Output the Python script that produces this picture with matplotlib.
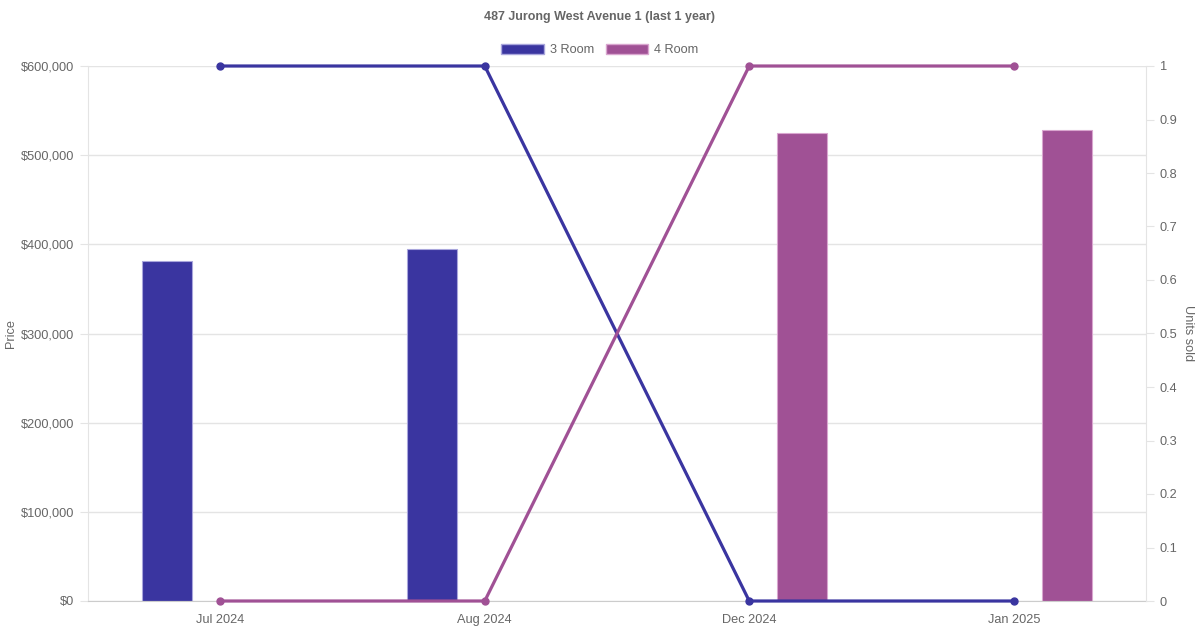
import numpy as np
import matplotlib.pyplot as plt
from matplotlib.patches import Patch
from matplotlib.ticker import FuncFormatter, MultipleLocator

plt.rcParams['font.family'] = ['Liberation Sans', 'DejaVu Sans']

months = ['Jul 2024', 'Aug 2024', 'Dec 2024', 'Jan 2025']
price_3room = [381000, 395000, np.nan, np.nan]
price_4room = [np.nan, np.nan, 525000, 528000]
units_3room = [1, 1, 0, 0]
units_4room = [0, 0, 1, 1]

c3 = '#3a35a0'
c4 = '#a05195'
grey = '#666666'
gridc = '#e4e4e4'

fig = plt.figure(figsize=(12, 6.3), dpi=100)
ax = fig.add_axes([88/1200, 1-601/630, (1146-88)/1200, (601-66)/630])
x = np.arange(len(months))
slot = 0.4
bw = 50/264.5

ax.bar(x - slot/2, price_3room, bw, color=c3, edgecolor='#a9a6dc', linewidth=0.8, zorder=2)
ax.bar(x + slot/2, price_4room, bw, color=c4, edgecolor='#d9a6cf', linewidth=0.8, zorder=2)

ax.set_xlim(-0.5, 3.5)
ax.set_ylim(0, 600000)
ax.yaxis.set_major_locator(MultipleLocator(100000))
ax.yaxis.set_major_formatter(FuncFormatter(lambda v, p: '${:,.0f}'.format(v)))
ax.set_xticks(x)
ax.set_xticklabels(months)
ax.grid(axis='y', color=gridc, linewidth=1, zorder=0)
ax.set_axisbelow(True)
for s in ['top', 'right']:
    ax.spines[s].set_visible(False)
ax.spines['left'].set_color(gridc)
ax.spines['bottom'].set_color('#cccccc')
ax.tick_params(axis='y', colors=gridc, labelcolor=grey, labelsize=9.2, length=6, pad=4)
ax.tick_params(axis='x', length=0, labelcolor=grey, labelsize=9.2, pad=9.5)
ax.set_ylabel('Price', color=grey, fontsize=9.2, va='center')
ax.yaxis.set_label_coords((11-88)/1058, 0.5)

ax2 = ax.twinx()
ax2.plot(x, units_3room, color=c3, linewidth=2.3, marker='o', markersize=5, zorder=3, clip_on=False)
ax2.plot(x, units_4room, color=c4, linewidth=2.3, marker='o', markersize=5, zorder=3, clip_on=False)
ax2.set_ylim(0, 1)
ax2.yaxis.set_major_locator(MultipleLocator(0.1))
ax2.yaxis.set_major_formatter(FuncFormatter(lambda v, p: '{:g}'.format(round(v, 1))))
for s in ['top', 'left', 'bottom']:
    ax2.spines[s].set_visible(False)
ax2.spines['right'].set_color(gridc)
ax2.tick_params(axis='y', colors=gridc, labelcolor=grey, labelsize=9.2, length=6, pad=4)
ax2.set_ylabel('Units sold', color=grey, fontsize=9.2, rotation=270, va='center')
ax2.yaxis.set_label_coords((1188-88)/1058, 0.5)

fig.text(0.5, 1-17/630, '487 Jurong West Avenue 1 (last 1 year)', ha='center', va='center',
         fontsize=9, fontweight='bold', color=grey)

handles = [Patch(facecolor=c3, edgecolor='#a9a6dc', label='3 Room'),
           Patch(facecolor=c4, edgecolor='#d9a6cf', label='4 Room')]
leg = fig.legend(handles=handles, loc='center', bbox_to_anchor=(0.5, 1-50/630), ncol=2,
                 frameon=False, fontsize=9.2, handlelength=3.3, handleheight=0.9,
                 columnspacing=0.9, handletextpad=0.5)
for t in leg.get_texts():
    t.set_color(grey)

fig.savefig('out.png', dpi=100)
